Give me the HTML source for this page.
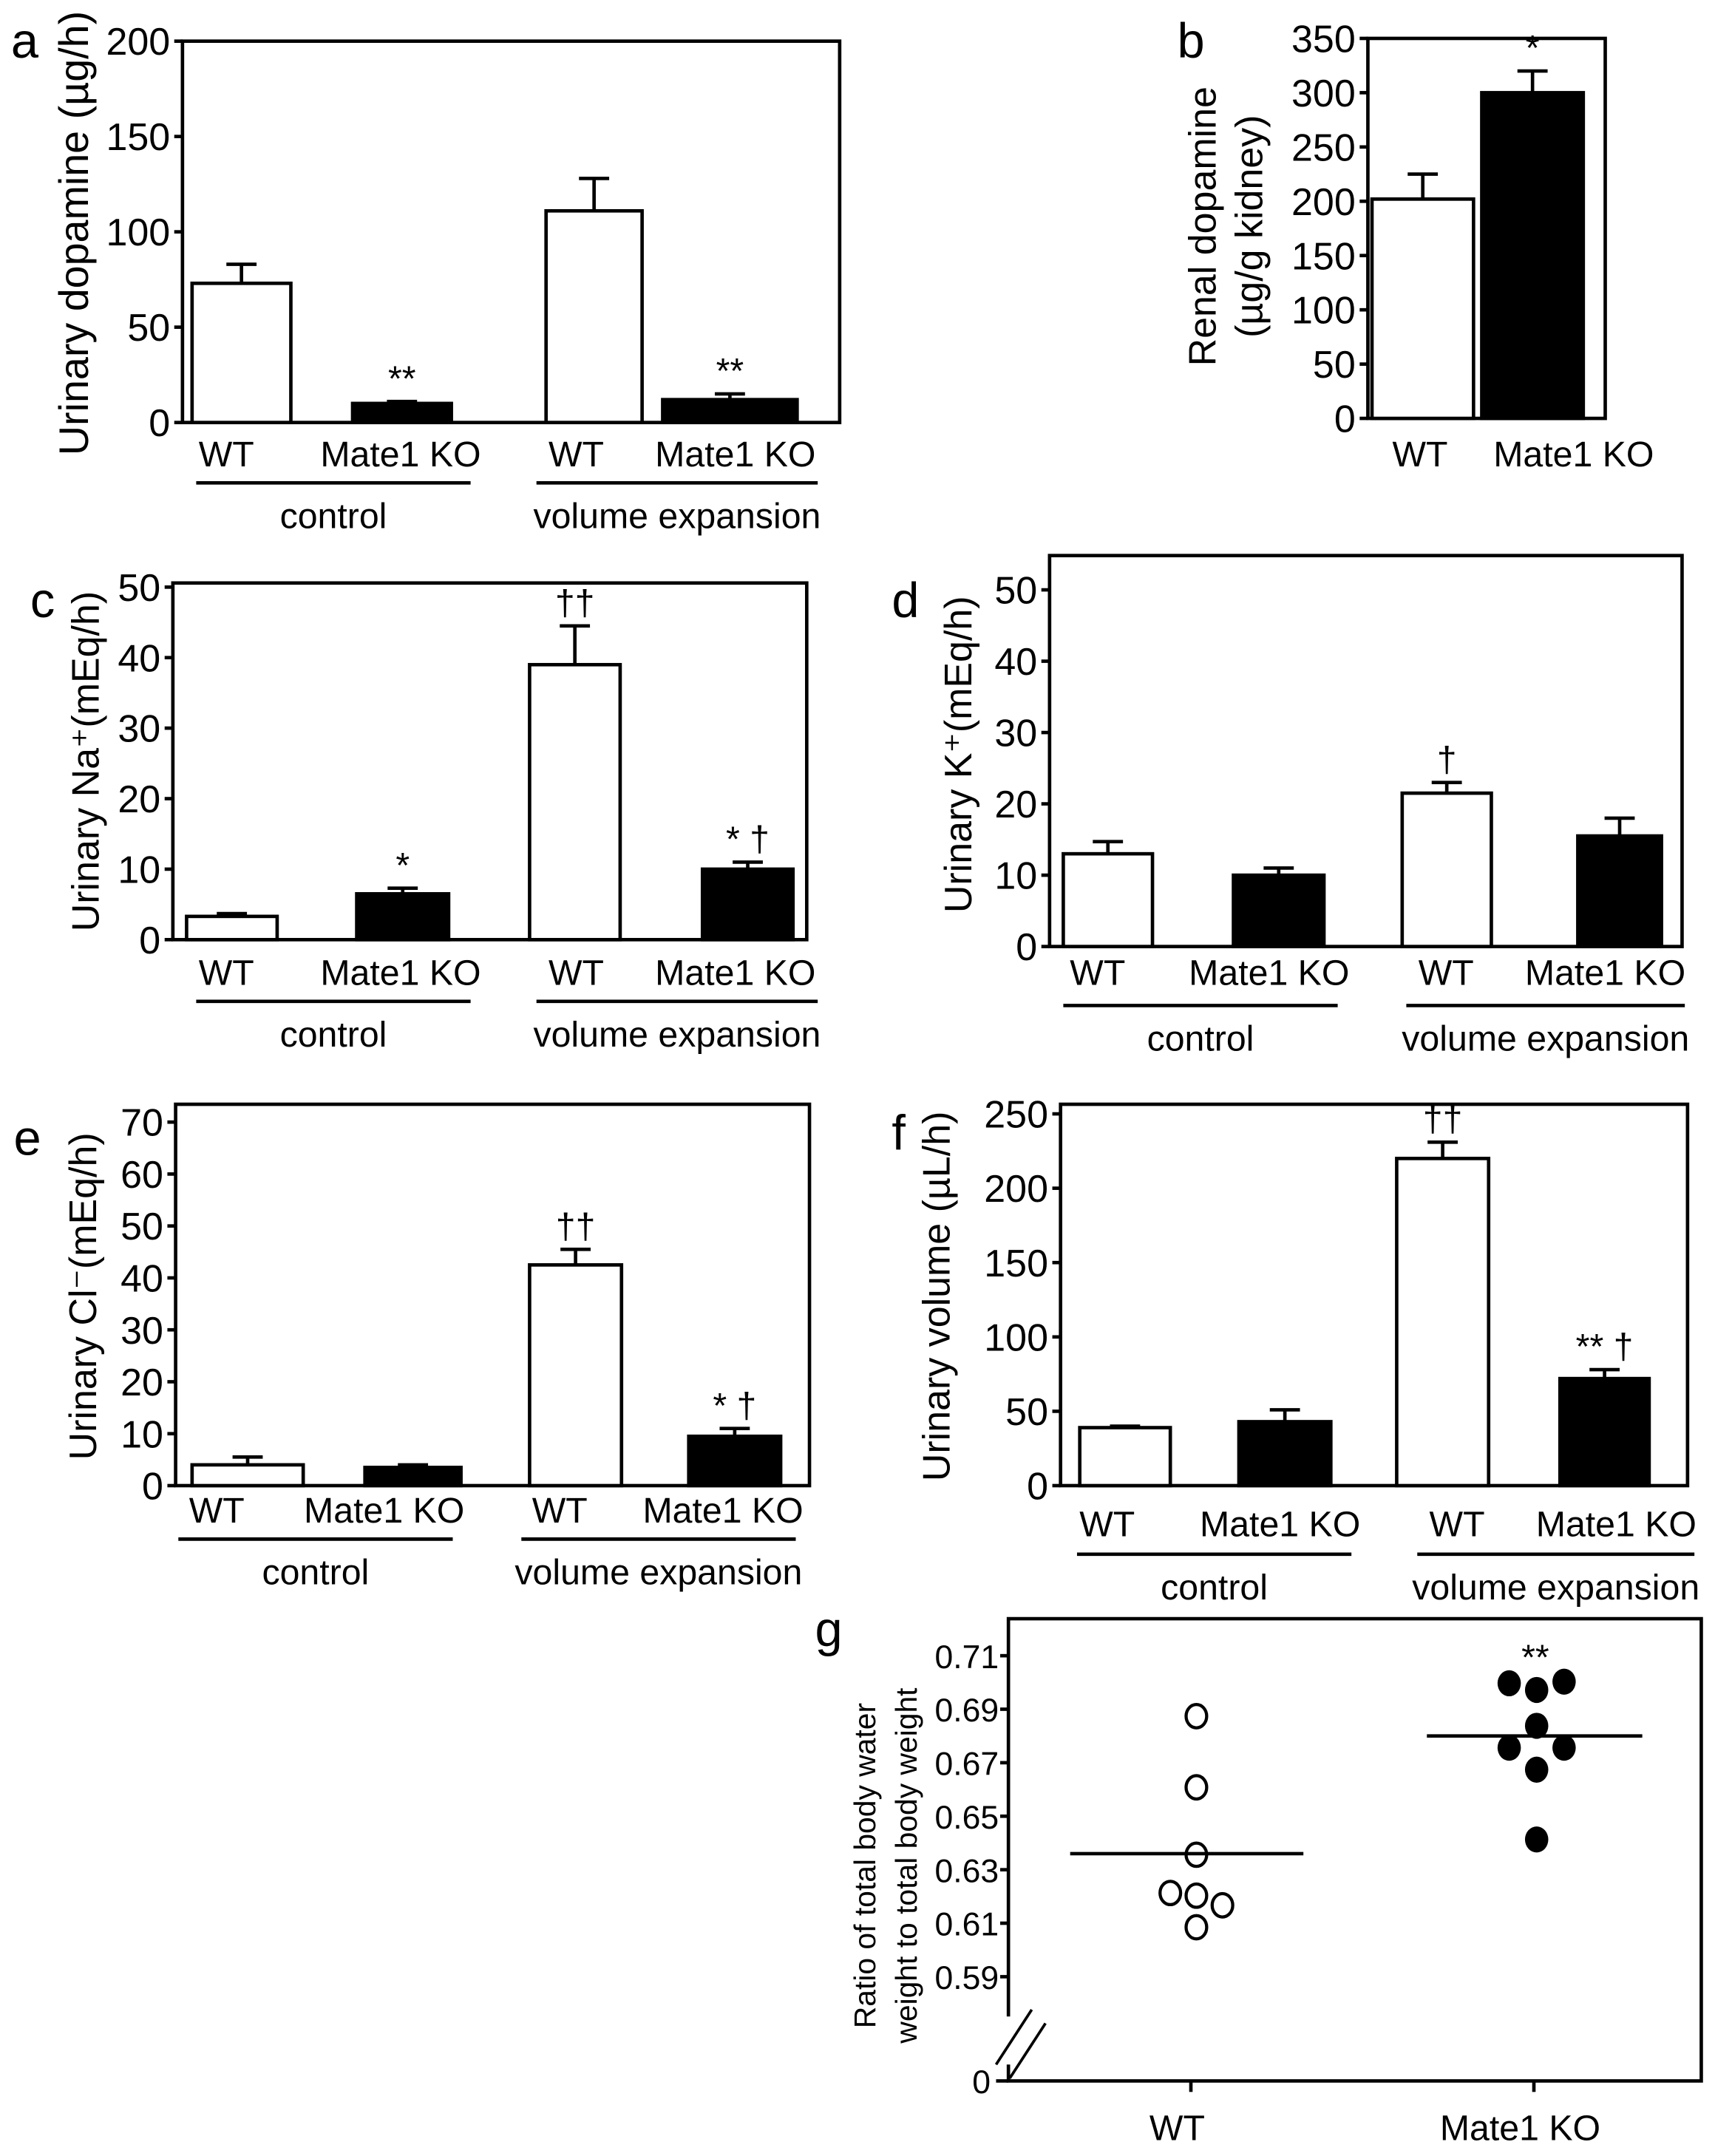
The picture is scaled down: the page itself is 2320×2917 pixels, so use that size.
<!DOCTYPE html>
<html><head><meta charset="utf-8">
<style>
html,body{margin:0;padding:0;background:#fff;}
svg{display:block;}
text{font-family:"Liberation Sans Narrow","Liberation Sans",sans-serif;fill:#000;}
.t{font-family:"Liberation Sans",sans-serif;}
</style></head>
<body>
<svg id="fig" width="2320" height="2917" viewBox="0 0 1250 1571.7" preserveAspectRatio="none" xmlns="http://www.w3.org/2000/svg"></svg>
<script>
// ---- data ----
const groupLabels = ["WT","Mate1 KO","WT","Mate1 KO"];
const aValues = [73, 10, 111, 12];
const aErrors = [83, 11, 128, 15];
const aMarks = ["", "**", "", "**"];
const bCategories = ["WT","Mate1 KO"];
const bValues = [202, 300];
const bErrors = [225, 320];
const bMarks = ["", "*"];
const cValues = [3.3, 6.5, 39, 10];
const cErrors = [3.7, 7.3, 44.5, 11];
const cMarks = ["", "*", "††", "* †"];
const dValues = [13, 10, 21.5, 15.5];
const dErrors = [14.7, 11, 23, 18];
const dMarks = ["", "", "†", ""];
const eValues = [4, 3.5, 42.5, 9.5];
const eErrors = [5.5, 4, 45.5, 11];
const eMarks = ["", "", "††", "* †"];
const fValues = [39, 43, 220, 72];
const fErrors = [40, 51, 231, 78];
const fMarks = ["", "", "††", "**   †"];
const gWT = [0.6874, 0.6608, 0.6356, 0.6213, 0.6203, 0.6167, 0.6085];
const gWTx = [0, 0, 0, -1, 0, 1, 0];
const gKO = [0.6997, 0.6972, 0.7003, 0.6838, 0.6756, 0.6756, 0.6674, 0.6413];
const gKOx = [-1, 0, 1, 0, -1, 1, 0, 0];
const gMeans = [0.636, 0.680];
const gTicks = [0.71, 0.69, 0.67, 0.65, 0.63, 0.61, 0.59];

const NS = "http://www.w3.org/2000/svg";
const svg = document.getElementById("fig");
function el(tag, attrs, parent, txt){
  const e = document.createElementNS(NS, tag);
  for (const k in attrs) e.setAttribute(k, attrs[k]);
  if (txt !== undefined) e.textContent = txt;
  (parent || svg).appendChild(e);
  return e;
}

function barPanel(cfg){
  const g = el("g", {});
  
  
  const y = v => cfg.y0 - (v / cfg.max) * (cfg.y0 - cfg.yTop);
  const box = el("rect", {x:cfg.x0, y:cfg.boxTop, width:cfg.x1-cfg.x0, height:cfg.y0-cfg.boxTop, fill:"none", stroke:"#000", "stroke-width":2.5}, g);
  
  
  for (let v = 0; v <= cfg.max + 1e-9; v += cfg.step){
    el("line", {x1:cfg.x0-6, x2:cfg.x0, y1:y(v), y2:y(v), stroke:"#000","stroke-width":2.5}, g);
    const t = el("text", {x:cfg.x0-9, y:y(v)+10, "font-size":28, "text-anchor":"end"}, g, String(v));
    
    
  }
  cfg.values.forEach((v, i) => {
    const bx = cfg.bars[i][0], bw = cfg.bars[i][1];
    const cx = bx + bw/2;
    const ey = y(cfg.errors[i]);
    el("line", {x1:cx, x2:cx, y1:y(v), y2:ey, stroke:"#000","stroke-width":2.5}, g);
    el("line", {x1:cx-11, x2:cx+11, y1:ey, y2:ey, stroke:"#000","stroke-width":2.5}, g);
    const r = el("rect", {x:bx, y:y(v), width:bw, height:cfg.y0-y(v), fill:(i%2 ? "#000" : "#fff"), stroke:"#000","stroke-width":2.5}, g);
    
    
    if (cfg.marks[i]){
      const m = el("text", {x:cx, y:ey-8, "font-size":26, "text-anchor":"middle", "class":"t", "xml:space":"preserve"}, g, cfg.marks[i]);
      
      
    }
    const l = el("text", {x:cfg.labelX[i], y:cfg.labelY, "font-size":26, "text-anchor":"middle"}, g, cfg.labels[i]);
    
    
  });
  if (cfg.groups){
    cfg.groups.forEach(gr => {
      el("line", {x1:gr[0], x2:gr[1], y1:cfg.lineY, y2:cfg.lineY, stroke:"#000","stroke-width":2.5}, g);
      const t = el("text", {x:(gr[0]+gr[1])/2, y:cfg.lineY+33, "font-size":26, "text-anchor":"middle"}, g, gr[2]);
      
      
    });
  }
  const tt = el("text", {transform:`translate(${cfg.titleX},${cfg.titleY}) rotate(-90)`, "font-size":cfg.titleSize||28, "text-anchor":"middle", "class":"t"}, g);
  cfg.title.forEach((line, k) => {
    el("tspan", {x:0, dy:(k ? 34 : 0)}, tt, line);
  });
  
  
  const lt = el("text", {x:cfg.letter[0], y:cfg.letter[1], "font-size":36, "class":"t"}, g, cfg.letter[2]);
  
  
}

barPanel({name:"panel-a", x0:133, x1:612, boxTop:30, yTop:30, y0:308, max:200, step:50,
  values:aValues, errors:aErrors, marks:aMarks, labels:groupLabels,
  bars:[[140,72],[257,72],[398,70],[483,98]], labelX:[165,292,420,536], labelY:340,
  lineY:352, groups:[[143,343,"control"],[391,596,"volume expansion"]],
  title:["Urinary dopamine (µg/h)"], titleX:64, titleY:170, titleSize:30, letter:[8,42,"a"]});

barPanel({name:"panel-b", x0:997, x1:1170, boxTop:28, yTop:28, y0:305, max:350, step:50,
  values:bValues, errors:bErrors, marks:bMarks, labels:bCategories,
  bars:[[1000,74],[1080,74]], labelX:[1035,1147], labelY:340,
  title:["Renal dopamine","(µg/g kidney)"], titleX:886, titleY:165, letter:[858,42,"b"]});

barPanel({name:"panel-c", x0:126, x1:588, boxTop:425, yTop:428, y0:685, max:50, step:10,
  values:cValues, errors:cErrors, marks:cMarks, labels:groupLabels,
  bars:[[136,66],[260,67],[386,66],[512,66]], labelX:[165,292,420,536], labelY:718,
  lineY:730, groups:[[143,343,"control"],[391,596,"volume expansion"]],
  title:["Urinary Na⁺(mEq/h)"], titleX:72, titleY:555, letter:[22,450,"c"]});

barPanel({name:"panel-d", x0:765, x1:1226, boxTop:405, yTop:430, y0:690, max:50, step:10,
  values:dValues, errors:dErrors, marks:dMarks, labels:groupLabels,
  bars:[[775,65],[899,66],[1022,65],[1150,61]], labelX:[800,925,1054,1170], labelY:718,
  lineY:733, groups:[[775,975,"control"],[1025,1228,"volume expansion"]],
  title:["Urinary K⁺(mEq/h)"], titleX:708, titleY:550, letter:[650,450,"d"]});

barPanel({name:"panel-e", x0:128, x1:590, boxTop:805, yTop:818, y0:1083, max:70, step:10,
  values:eValues, errors:eErrors, marks:eMarks, labels:groupLabels,
  bars:[[140,81],[266,70],[386,67],[502,67]], labelX:[158,280,408,527], labelY:1110,
  lineY:1122, groups:[[130,330,"control"],[380,580,"volume expansion"]],
  title:["Urinary Cl⁻(mEq/h)"], titleX:70, titleY:945, letter:[10,842,"e"]});

barPanel({name:"panel-f", x0:773, x1:1230, boxTop:805, yTop:812, y0:1083, max:250, step:50,
  values:fValues, errors:fErrors, marks:fMarks, labels:groupLabels,
  bars:[[787,66],[903,67],[1018,67],[1137,65]], labelX:[807,933,1062,1178], labelY:1120,
  lineY:1133, groups:[[785,985,"control"],[1033,1235,"volume expansion"]],
  title:["Urinary volume (µL/h)"], titleX:692, titleY:945, letter:[650,838,"f"]});

// ---- panel g ----
(function(){
  const g = el("g", {});
  
  
  const x0 = 735, x1 = 1240, top = 1180, y0 = 1517;
  const yv = v => 1207 + (0.71 - v) / 0.02 * 39;
  const xc = [868, 1118];
  el("path", {d:`M${x0},1470 L${x0},${top} L${x1},${top} L${x1},${y0} L${x0},${y0} L${x0},1505`, fill:"none", stroke:"#000","stroke-width":2.5}, g);
  el("line", {x1:726, x2:752, y1:1505, y2:1465, stroke:"#000","stroke-width":2}, g);
  el("line", {x1:736, x2:762, y1:1515, y2:1475, stroke:"#000","stroke-width":2}, g);
  el("line", {x1:726, x2:x0, y1:y0, y2:y0, stroke:"#000","stroke-width":2.5}, g);
  const z = el("text", {x:722, y:y0+9, "font-size":24, "text-anchor":"end"}, g, "0");
  
  
  gTicks.forEach(v => {
    el("line", {x1:x0-6, x2:x0, y1:yv(v), y2:yv(v), stroke:"#000","stroke-width":2.5}, g);
    const t = el("text", {x:x0-7, y:yv(v)+9, "font-size":24, "text-anchor":"end"}, g, v.toFixed(2));
    
    
  });
  ["WT","Mate1 KO"].forEach((c, i) => {
    el("line", {x1:xc[i], x2:xc[i], y1:y0, y2:y0+8, stroke:"#000","stroke-width":2.5}, g);
    const t = el("text", {x:xc[i]-10, y:1560, "font-size":26, "text-anchor":"middle"}, g, c);
    
    
  });
  gWT.forEach((v, i) => {
    const c = el("ellipse", {cx:xc[0]+4+gWTx[i]*19, cy:yv(v), rx:7.5, ry:8.5, fill:"#fff", stroke:"#000","stroke-width":2.3}, g);
    
    
  });
  gKO.forEach((v, i) => {
    const c = el("ellipse", {cx:xc[1]+2+gKOx[i]*20, cy:yv(v), rx:8.5, ry:9.5, fill:"#000"}, g);
    
    
  });
  const mx = [[780,950],[1040,1197]];
  gMeans.forEach((m, i) => {
    const l = el("line", {x1:mx[i][0], x2:mx[i][1], y1:yv(m), y2:yv(m), stroke:"#000","stroke-width":2.5}, g);
    
    
  });
  const s = el("text", {x:1119, y:1217, "font-size":26, "text-anchor":"middle", "class":"t"}, g, "**");
  
  
  const tt = el("text", {transform:"translate(638,1360) rotate(-90)", "font-size":22, "text-anchor":"middle", "class":"t"}, g);
  el("tspan", {x:0, dy:0}, tt, "Ratio of total body water");
  el("tspan", {x:0, dy:30}, tt, "weight to total body weight");
  
  
  const lt = el("text", {x:594, y:1200, "font-size":36, "class":"t"}, g, "g");
  
  
})();
</script>
</body></html>
